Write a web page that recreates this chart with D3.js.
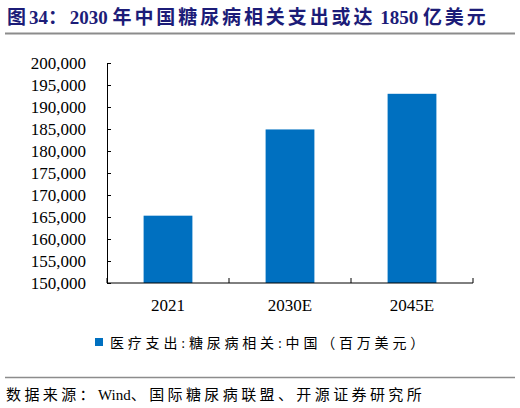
<!DOCTYPE html>
<html>
<head>
<meta charset="utf-8">
<script src="https://cdn.jsdelivr.net/npm/d3@7"></script>
<style>
  body { margin: 0; background: #fff; }
  svg { display: block; }
</style>
</head>
<body>
<div id="chart"></div>
<script>
// data
let categories = ["2021", "2030E", "2045E"];
let values = [165300, 184900, 193000];
let yTicks = [150000, 155000, 160000, 165000, 170000, 175000, 180000, 185000, 190000, 195000, 200000];
let seriesName = "医疗支出:糖尿病相关:中国（百万美元）";
let titleText = "图34：2030 年中国糖尿病相关支出或达 1850 亿美元";
let sourceText = "数据来源：Wind、国际糖尿病联盟、开源证券研究所";

let width = 520, height = 408;
let margin = {top: 63, right: 47, bottom: 125, left: 107};
let latin = "'Liberation Serif', 'Times New Roman', serif";
let cjk = "'Liberation Serif', 'Noto Sans CJK SC', serif";

let svg = d3.select("#chart").append("svg")
    .attr("width", width)
    .attr("height", height);

// split text into latin / cjk runs so only the cjk runs get spaced out
function spacedText(sel, str, cjkSpacing) {
    let runs = str.match(/[A-Za-z0-9 ,.]+|[^A-Za-z0-9 ,.]+/g);
    sel.selectAll("tspan")
        .data(runs)
        .enter()
        .append("tspan")
        .style("letter-spacing", d => /[A-Za-z0-9]/.test(d) ? "0px" : cjkSpacing)
        .style("white-space", "pre")
        .text(d => d);
}

// title + rule
svg.append("text")
    .attr("x", 7)
    .attr("y", 24)
    .attr("xml:space", "preserve")
    .style("font-family", cjk)
    .style("font-size", "19px")
    .style("font-weight", "bold")
    .style("fill", "#1c1c78")
    .call(spacedText, titleText, "2.9px");

svg.append("line")
    .attr("x1", 5).attr("x2", 515)
    .attr("y1", 33.5).attr("y2", 33.5)
    .style("stroke", "#8c8c8c")
    .style("stroke-width", 2);

let x = d3.scaleBand()
    .domain(categories)
    .range([margin.left, width - margin.right])
    .paddingInner(0.6)
    .paddingOuter(0.3);

let y = d3.scaleLinear()
    .domain([150000, 200000])
    .range([height - margin.bottom, margin.top]);

// bars
svg.selectAll(".bar")
    .data(values)
    .enter()
    .append("rect")
    .attr("class", "bar")
    .attr("x", (d, i) => x(categories[i]))
    .attr("width", x.bandwidth())
    .attr("y", d => y(d))
    .attr("height", d => y(150000) - y(d))
    .style("fill", "#0070c0");

// y axis, ticks pointing inward
let yAxis = svg.append("g")
    .attr("transform", "translate(" + margin.left + ",0)")
    .call(d3.axisLeft(y).tickValues(yTicks).tickSize(-4).tickPadding(21)
        .tickFormat(d3.format(",")));

yAxis.selectAll("text")
    .style("font-family", latin)
    .style("font-size", "17px")
    .style("fill", "#000");

// x axis, category boundaries as ticks
let step = x.step();
let bounds = [0, 1, 2, 3].map(i => margin.left + i * step);
let xAxis = svg.append("g")
    .attr("transform", "translate(0," + y(150000) + ")");

xAxis.append("line")
    .attr("x1", margin.left).attr("x2", width - margin.right)
    .style("stroke", "#000");

xAxis.selectAll(".btick")
    .data(bounds)
    .enter()
    .append("line")
    .attr("class", "btick")
    .attr("x1", d => d).attr("x2", d => d)
    .attr("y1", 0).attr("y2", -5)
    .style("stroke", "#000");

xAxis.selectAll(".clabel")
    .data(categories)
    .enter()
    .append("text")
    .attr("class", "clabel")
    .attr("x", d => x(d) + x.bandwidth() / 2)
    .attr("y", 28)
    .attr("text-anchor", "middle")
    .style("font-family", latin)
    .style("font-size", "17px")
    .text(d => d);

svg.selectAll(".domain").style("stroke", "#000");
svg.selectAll(".tick line").style("stroke", "#000");

// legend
svg.append("rect")
    .attr("x", 95).attr("y", 338)
    .attr("width", 8).attr("height", 8)
    .style("fill", "#0070c0");

svg.append("text")
    .attr("x", 110)
    .attr("y", 348)
    .style("font-family", cjk)
    .style("font-size", "14px")
    .style("letter-spacing", "3.8px")
    .text(seriesName);

// source rule + text
svg.append("line")
    .attr("x1", 5).attr("x2", 515)
    .attr("y1", 377.5).attr("y2", 377.5)
    .style("stroke", "#8c8c8c")
    .style("stroke-width", 1.5);

svg.append("text")
    .attr("x", 6)
    .attr("y", 400)
    .style("font-family", cjk)
    .style("font-size", "15px")
    .call(spacedText, sourceText, "3.4px");
</script>
</body>
</html>
